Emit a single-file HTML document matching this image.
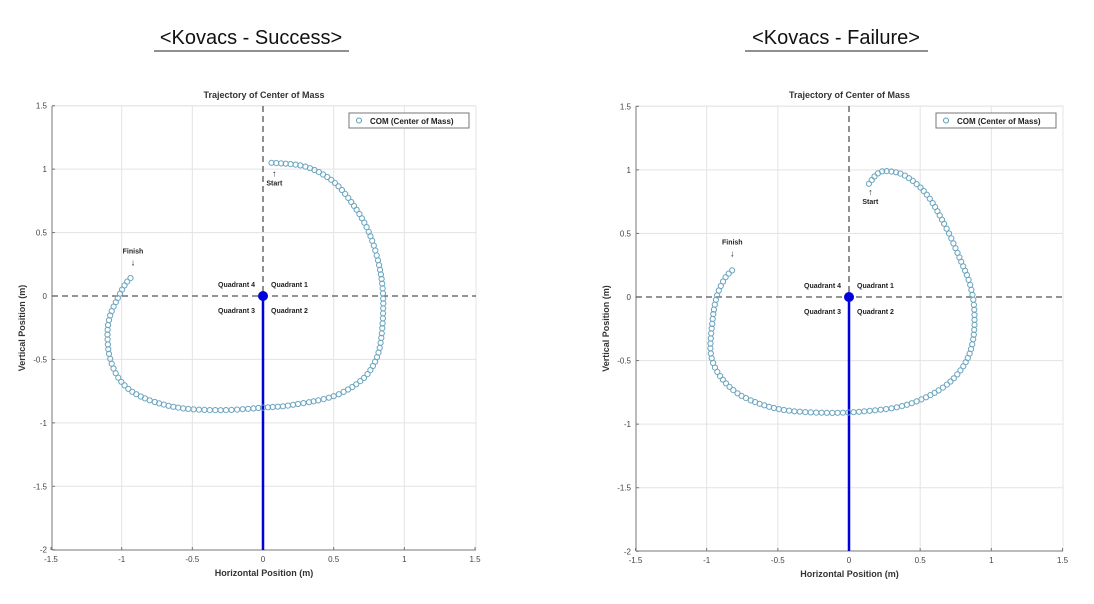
<!DOCTYPE html>
<html><head><meta charset="utf-8"><style>
html,body{margin:0;padding:0;background:#fff;}
svg{display:block;font-family:"Liberation Sans",Arial,sans-serif;}
</style></head><body>
<svg id="s" width="1094" height="604" viewBox="0 0 1094 604" xmlns="http://www.w3.org/2000/svg">
<text x="251" y="44" font-size="20" text-anchor="middle" fill="#111" font-family="Liberation Sans, NanumGothic, sans-serif">&lt;Kovacs - Success&gt;</text>
<line x1="154" y1="51" x2="349" y2="51" stroke="#222" stroke-width="1"/>
<text x="836" y="44" font-size="20" text-anchor="middle" fill="#111">&lt;Kovacs - Failure&gt;</text>
<line x1="745" y1="51" x2="928" y2="51" stroke="#222" stroke-width="1"/>
<g id="p1"></g><g id="p2"></g>
</svg>
<script>
var NS="http://www.w3.org/2000/svg";
function el(g,t,a,txt){var e=document.createElementNS(NS,t);for(var k in a)e.setAttribute(k,a[k]);if(txt!==undefined)e.textContent=txt;g.appendChild(e);return e;}
function cr(P,n){var out=[];for(var i=0;i<P.length-1;i++){var p0=P[Math.max(0,i-1)],p1=P[i],p2=P[i+1],p3=P[Math.min(P.length-1,i+2)];for(var j=0;j<n;j++){var t=j/n,t2=t*t,t3=t2*t;out.push([0.5*((2*p1[0])+(-p0[0]+p2[0])*t+(2*p0[0]-5*p1[0]+4*p2[0]-p3[0])*t2+(-p0[0]+3*p1[0]-3*p2[0]+p3[0])*t3),0.5*((2*p1[1])+(-p0[1]+p2[1])*t+(2*p0[1]-5*p1[1]+4*p2[1]-p3[1])*t2+(-p0[1]+3*p1[1]-3*p2[1]+p3[1])*t3)]);}}out.push(P[P.length-1]);return out;}
function plot(id,L,R,T,B,X0,Y0,pts,start,fin,spacing){
 var g=document.getElementById(id);var sx=(R-L)/3,sy=(B-T)/3.5;
 function X(v){return X0+v*sx}function Y(v){return Y0-v*sy}
 el(g,"rect",{x:L,y:T,width:R-L,height:B-T,fill:"#fff",stroke:"#e6e6e6"});
 [-1,-0.5,0.5,1].forEach(function(v){el(g,"line",{x1:X(v),x2:X(v),y1:T,y2:B,stroke:"#e3e3e3"});});
 [1.5,1,0.5,-0.5,-1,-1.5].forEach(function(v){el(g,"line",{x1:L,x2:R,y1:Y(v),y2:Y(v),stroke:"#e3e3e3"});});
 el(g,"line",{x1:L,x2:L,y1:T,y2:B,stroke:"#777"});el(g,"line",{x1:L,x2:R,y1:B,y2:B,stroke:"#777"});
 [-1.5,-1,-0.5,0,0.5,1,1.5].forEach(function(v){el(g,"line",{x1:X(v),x2:X(v),y1:B,y2:B-3,stroke:"#777"});el(g,"text",{x:X(v),y:B+12,"font-size":8,"text-anchor":"middle",fill:"#444"},String(v));});
 [1.5,1,0.5,0,-0.5,-1,-1.5,-2].forEach(function(v){el(g,"line",{x1:L,x2:L+3,y1:Y(v),y2:Y(v),stroke:"#777"});el(g,"text",{x:L-5,y:Y(v)+3,"font-size":8,"text-anchor":"end",fill:"#444"},String(v));});
 el(g,"text",{x:(L+R)/2,y:T-8,"font-size":9,"font-weight":"bold","text-anchor":"middle",fill:"#333"},"Trajectory of Center of Mass");
 el(g,"text",{x:(L+R)/2,y:B+26,"font-size":9,"font-weight":"bold","text-anchor":"middle",fill:"#333"},"Horizontal Position (m)");
 el(g,"text",{x:0,y:0,"font-size":9,"font-weight":"bold","text-anchor":"middle",fill:"#333",transform:"translate("+(L-27)+","+((T+B)/2)+") rotate(-90)"},"Vertical Position (m)");
 el(g,"line",{x1:L,x2:R,y1:Y0,y2:Y0,stroke:"#555","stroke-width":1.3,"stroke-dasharray":"6,4"});
 el(g,"line",{x1:X0,x2:X0,y1:T,y2:Y0,stroke:"#555","stroke-width":1.3,"stroke-dasharray":"6,4"});
 el(g,"line",{x1:X0,x2:X0,y1:Y0,y2:B,stroke:"#0000dd","stroke-width":2.5});
 el(g,"circle",{cx:X0,cy:Y0,r:5,fill:"#0000dd"});
 var fs={"font-size":7,"font-weight":"bold",fill:"#222"};
 function t(x,y,s,a,sz){var o=Object.assign({x:x,y:y},fs);if(a)o["text-anchor"]=a;if(sz)o["font-size"]=sz;el(g,"text",o,s);}
 t(X0-8,Y0-9,"Quadrant 4","end");t(X0+8,Y0-9,"Quadrant 1");t(X0-8,Y0+17,"Quadrant 3","end");t(X0+8,Y0+17,"Quadrant 2");
 el(g,"rect",{x:R-127,y:T+7,width:120,height:15,fill:"#fff",stroke:"#777"});
 el(g,"circle",{cx:R-117,cy:T+14.5,r:2.5,fill:"none",stroke:"#5b9ab5"});
 el(g,"text",{x:R-106,y:T+18,"font-size":8,"font-weight":"bold",fill:"#222"},"COM (Center of Mass)");
 var P=cr(pts.map(function(p){return[X(p[0]),Y(p[1])]}),40);
 var acc=spacing,prev=P[0];var out=[P[0]];
 for(var i=1;i<P.length;i++){var d=Math.hypot(P[i][0]-prev[0],P[i][1]-prev[1]);acc-=d;prev=P[i];if(acc<=0){out.push(P[i]);acc=spacing;}}
 out.forEach(function(p){el(g,"circle",{cx:p[0].toFixed(1),cy:p[1].toFixed(1),r:2.6,fill:"none",stroke:"#6aa5bf","stroke-width":1});});
 t(X(start[0]),Y(start[1])+5,"↑","middle",9);t(X(start[0]),Y(start[1])+14,"Start","middle");
 t(X(fin[0]),Y(fin[1])-10,"↓","middle",9);t(X(fin[0]),Y(fin[1])-22,"Finish","middle");
}
plot("p1",52,476,106,550,263,296,
[[0.06,1.05],[0.3,1.02],[0.5,0.9],[0.65,0.7],[0.75,0.5],[0.82,0.25],[0.85,0],[0.84,-0.3],[0.8,-0.5],[0.7,-0.66],[0.5,-0.79],[0.2,-0.86],[0,-0.88],[-0.3,-0.9],[-0.6,-0.88],[-0.85,-0.8],[-1.0,-0.68],[-1.08,-0.5],[-1.1,-0.3],[-1.08,-0.15],[-1.02,0],[-0.97,0.1],[-0.92,0.16]],
[0.08,0.98],[-0.92,0.16],4.6);
plot("p2",636,1063,106,551,849,297,
[[0.14,0.89],[0.2,0.97],[0.27,0.99],[0.4,0.95],[0.55,0.8],[0.68,0.55],[0.78,0.3],[0.85,0.1],[0.88,-0.1],[0.87,-0.35],[0.8,-0.55],[0.65,-0.72],[0.4,-0.85],[0.1,-0.9],[-0.2,-0.91],[-0.5,-0.88],[-0.75,-0.78],[-0.9,-0.63],[-0.97,-0.45],[-0.96,-0.2],[-0.93,0],[-0.87,0.15],[-0.8,0.23]],
[0.15,0.84],[-0.82,0.24],4.6);
</script>
</body></html>
